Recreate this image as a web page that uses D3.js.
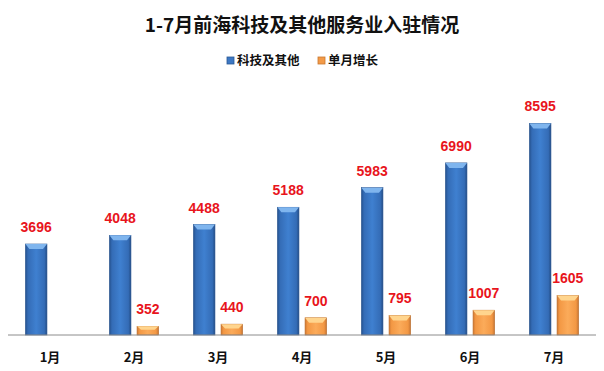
<!DOCTYPE html>
<html>
<head>
<meta charset="utf-8">
<script src="https://cdn.jsdelivr.net/npm/d3@7"></script>
<style>
  body { margin: 0; background: #fff; }
  svg { display: block; font-family: "Noto Sans CJK SC", "Microsoft YaHei", sans-serif; }
</style>
</head>
<body>
<div id="chart"></div>
<script>
var months = ['1月', '2月', '3月', '4月', '5月', '6月', '7月'];
var totals = [3696, 4048, 4488, 5188, 5983, 6990, 8595];
var monthly = [null, 352, 440, 700, 795, 1007, 1605];
var seriesNames = ['科技及其他', '单月增长'];

var width = 604, height = 371;
var margin = { top: 88, right: 8, bottom: 36, left: 8 };

var svg = d3.select('#chart').append('svg')
    .attr('width', width)
    .attr('height', height);

var defs = svg.append('defs');

function hGrad(id, stops) {
    var g = defs.append('linearGradient').attr('id', id)
        .attr('x1', 0).attr('x2', 1).attr('y1', 0).attr('y2', 0);
    stops.forEach(function (s) {
        g.append('stop').attr('offset', s[0]).attr('stop-color', s[1]);
    });
}
hGrad('blueGrad', [[0, '#24508c'], [0.12, '#346cb6'], [0.5, '#3f80d0'], [0.88, '#346cb6'], [1, '#234d86']]);
hGrad('orangeGrad', [[0, '#d07a34'], [0.12, '#f39844'], [0.5, '#fbab5a'], [0.88, '#f39844'], [1, '#c67432']]);

var x = d3.scaleBand()
    .domain(months)
    .range([margin.left, width - margin.right])
    .paddingInner(0)
    .paddingOuter(0);

var inner = d3.scaleBand()
    .domain([0, 1])
    .range([16, x.bandwidth() - 16])
    .paddingInner(0.22)
    .paddingOuter(0.05);

var y = d3.scaleLinear()
    .domain([0, 10000])
    .range([height - margin.bottom, height - margin.bottom - 246.2]);

// title
svg.append('text')
    .attr('x', width / 2)
    .attr('y', 32)
    .attr('text-anchor', 'middle')
    .attr('font-size', 19)
    .attr('font-weight', 'bold')
    .attr('fill', '#111')
    .text('1-7月前海科技及其他服务业入驻情况');

// legend
var legendX = [227, 318];
var legendColors = ['#3d78c4', '#f39a48'];
seriesNames.forEach(function (name, i) {
    var lg = svg.append('g').attr('transform', `translate(${legendX[i]}, 57)`);
    lg.append('rect')
        .attr('width', 7).attr('height', 7)
        .attr('fill', legendColors[i])
        .attr('stroke', i == 0 ? '#2a5894' : '#c9782f')
        .attr('stroke-width', 0.8);
    lg.append('text')
        .attr('x', 10).attr('y', 8)
        .attr('font-size', 12.5)
        .attr('font-weight', 'bold')
        .attr('fill', '#111')
        .text(name);
});

function drawBars(values, idx, gradId, topColor, edge) {
    var g = svg.append('g');
    values.forEach(function (v, i) {
        if (v == null) return;
        var bx = x(months[i]) + inner(idx);
        var bw = inner.bandwidth();
        var by = y(v);
        var bh = y(0) - by;
        g.append('rect')
            .attr('x', bx).attr('y', by)
            .attr('width', bw).attr('height', bh)
            .attr('fill', `url(#${gradId})`)
            .attr('stroke', edge)
            .attr('stroke-width', 0.6);
        // top bevel
        var bev = Math.min(5, bh * 0.4);
        g.append('path')
            .attr('d', `M${bx},${by} L${bx + bw},${by} L${bx + bw - 4},${by + bev} L${bx + 4},${by + bev} Z`)
            .attr('fill', topColor);
        // value label
        svg.append('text')
            .attr('x', bx + bw / 2)
            .attr('y', by - 12)
            .attr('text-anchor', 'middle')
            .attr('font-size', 14)
            .attr('font-weight', 'bold')
            .attr('font-family', '"Liberation Sans", Arial, sans-serif')
            .attr('fill', '#e8141c')
            .text(v);
    });
}

drawBars(totals, 0, 'blueGrad', '#7fb5ee', '#2a5590');
drawBars(monthly, 1, 'orangeGrad', '#ffd58e', '#b86c2c');

// baseline
svg.append('line')
    .attr('x1', margin.left).attr('x2', width - margin.right)
    .attr('y1', y(0)).attr('y2', y(0))
    .attr('stroke', '#8c8c8c')
    .attr('stroke-width', 1);

// category labels
svg.append('g').selectAll('text')
    .data(months)
    .enter().append('text')
    .attr('x', function (d) { return x(d) + x.bandwidth() / 2; })
    .attr('y', 362)
    .attr('text-anchor', 'middle')
    .attr('font-size', 13)
    .attr('font-weight', 'bold')
    .attr('fill', '#111')
    .text(function (d) { return d; });
</script>
</body>
</html>
